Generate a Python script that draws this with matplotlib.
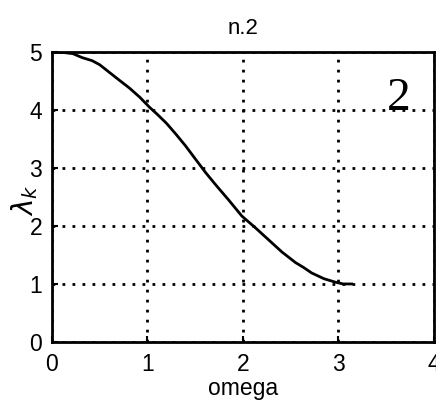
import numpy as np
import matplotlib
matplotlib.use("Agg")
from matplotlib import pyplot as plt

plt.rcParams["font.family"] = ["Liberation Sans", "DejaVu Sans"]

# values
omega = [0.0, 0.12, 0.22, 0.32, 0.42, 0.5, 0.6, 0.7, 0.81, 0.92, 1.02, 1.1,
         1.2, 1.3, 1.4, 1.5, 1.61, 1.72, 1.85, 1.99, 2.13, 2.27, 2.41, 2.55,
         2.64, 2.72, 2.85, 2.97, 3.05, 3.14]
lam = [5.0, 4.99, 4.97, 4.9, 4.85, 4.78, 4.65, 4.52, 4.38, 4.22, 4.05, 3.93,
       3.77, 3.58, 3.38, 3.16, 2.92, 2.7, 2.45, 2.17, 1.97, 1.76, 1.55, 1.37,
       1.28, 1.19, 1.09, 1.03, 1.0, 1.0]
xticks = [0, 1, 2, 3, 4]
yticks = [0, 1, 2, 3, 4, 5]

fig = plt.figure(figsize=(4.36, 4.12), dpi=100)
ax = fig.add_axes([0.119, 0.17, 0.876, 0.704])

ax.plot(omega, lam, color="black", lw=2)
ax.set_xlim(0, 4)
ax.set_ylim(0, 5)
ax.set_xticks(xticks)
ax.set_yticks(yticks)
ax.grid(True, color="black", linestyle=(0, (1, 2.6)), linewidth=2)
ax.tick_params(direction="in", labelsize=16.5, length=4, width=1.5)
ax.tick_params(axis="x", pad=8)
ax.tick_params(axis="y", pad=7)
for s in ax.spines.values():
    s.set_linewidth(2)

ax.set_title("n.2", fontsize=16, pad=13)
ax.set_xlabel("omega", fontsize=16.5, labelpad=1)
ax.set_ylabel(r"$\lambda_k$", fontsize=20)
ax.yaxis.set_label_coords(-0.03, 0.49)
ax.text(3.63, 4.0, "2", fontsize=34, family="Liberation Serif",
        ha="center", va="baseline")

fig.savefig("out.png", dpi=100)
